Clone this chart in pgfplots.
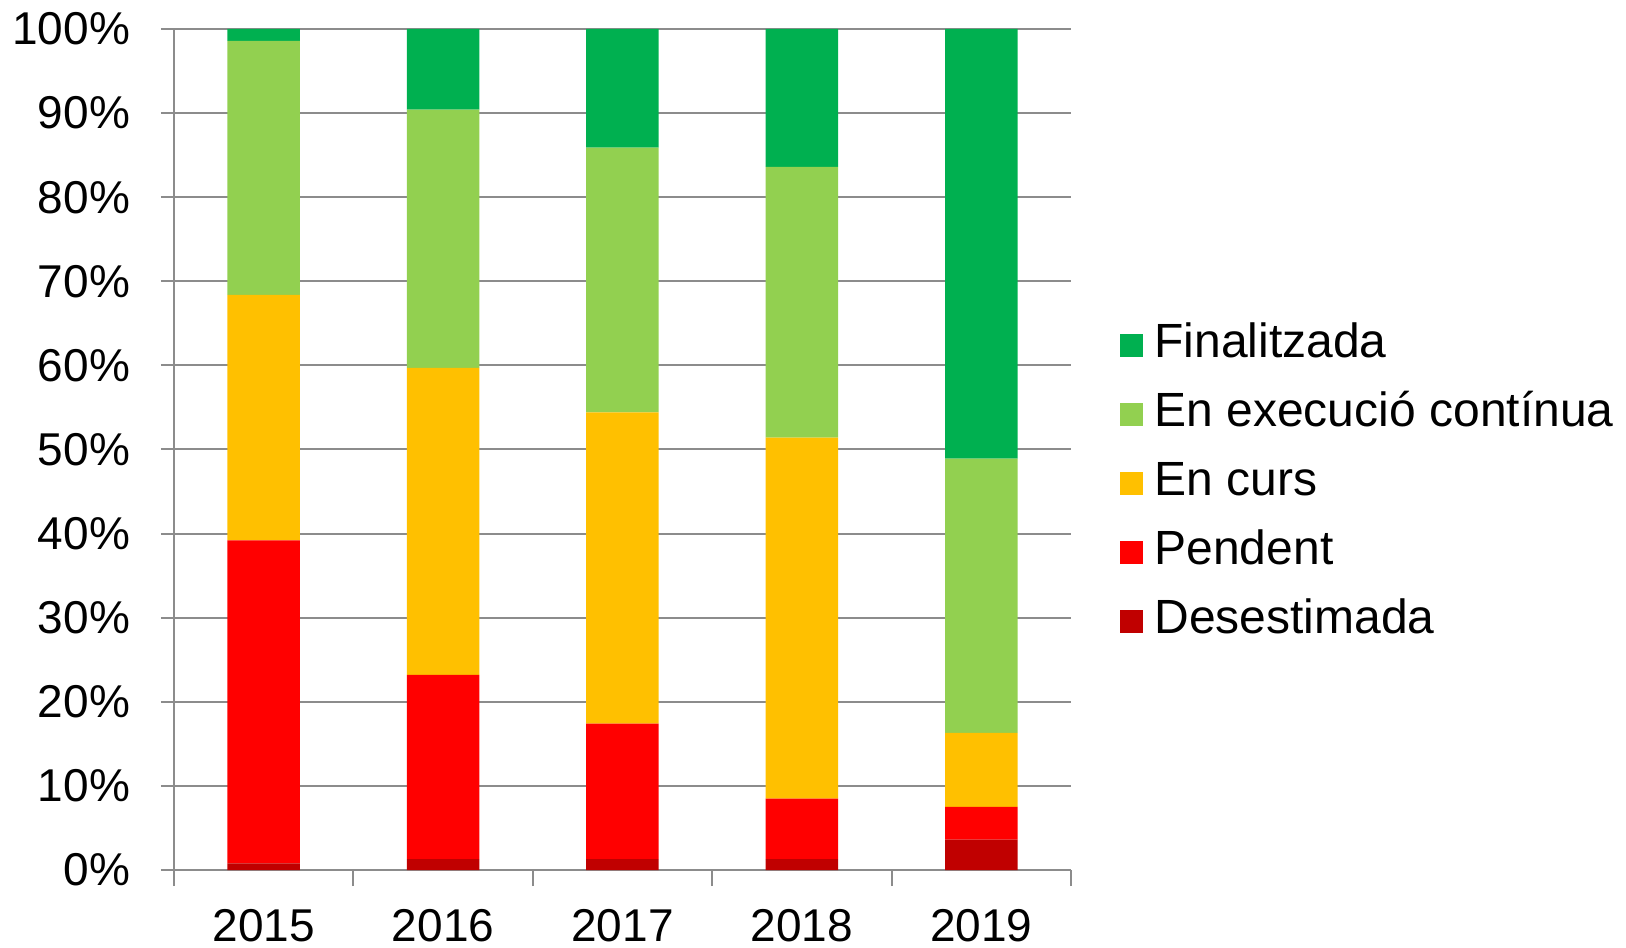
\documentclass[border=0pt]{standalone}
\usepackage{fontspec}
\setmainfont{Liberation Sans}
\usepackage{pgfplots}
\pgfplotsset{compat=1.18}
\usepackage{pgfplotstable}
\definecolor{cFin}{HTML}{00B050}
\definecolor{cExe}{HTML}{92D050}
\definecolor{cCur}{HTML}{FFC000}
\definecolor{cPen}{HTML}{FF0000}
\definecolor{cDes}{HTML}{C00000}
\definecolor{gridc}{RGB}{140,140,140}
\pgfplotstableread{
x D P C E F
0 0.8 38.4 29.2 30.2 1.4
1 1.3 21.9 36.5 30.7 9.6
2 1.3 16.1 37.0 31.5 14.1
3 1.3 7.2 42.9 32.2 16.4
4 3.6 3.9 8.8 32.6 51.1
}\datatable
\begin{document}
\begin{tikzpicture}
\begin{axis}[
  at={(0,0)}, anchor=south west,
  scale only axis,
  width=448.5pt, height=420.5pt,
  ybar stacked, bar width=36.25pt,
  xmin=-0.5, xmax=4.5, ymin=0, ymax=100,
  axis x line*=bottom, axis y line*=left,
  axis line style={draw=gridc, line width=1pt},
  xtick={0,1,2,3,4},
  xticklabels={2015,2016,2017,2018,2019},
  major x tick style={draw=none},
  minor xtick={-0.5,0.5,1.5,2.5,3.5,4.5},
  minor x tick style={draw=gridc, line width=1pt},
  minor tick length=8pt,
  ytick={0,10,...,100},
  yticklabels={0\%,10\%,20\%,30\%,40\%,50\%,60\%,70\%,80\%,90\%,100\%},
  major tick length=6.5pt,
  tick align=outside,
  ytick style={draw=gridc, line width=1pt},
  ymajorgrids,
  grid style={draw=gridc, line width=1pt},
  ticklabel style={font=\fontsize{23}{23}\selectfont},
  yticklabel style={xshift=-12pt},
  xticklabel style={inner sep=0pt, text depth=0pt, yshift=-13.2pt},
  reverse legend,
  legend cell align=left,
  legend style={at={(1,0.463)}, anchor=west, xshift=24.5pt, yshift=-1.5pt, draw=none, fill=none,
    inner sep=0pt, row sep=8.5pt,
    font=\fontsize{24}{24}\selectfont,
    nodes={inner sep=2pt, text height=17pt, text depth=5pt},
    /tikz/every odd column/.append style={column sep=3.6pt}},
  legend image code/.code={\fill[#1] (0pt,-5.75pt) rectangle (11.5pt,5.75pt);},
]
\addplot[fill=cDes, draw=none] table[x=x, y=D] {\datatable};
\addlegendentry{Desestimada}
\addplot[fill=cPen, draw=none] table[x=x, y=P] {\datatable};
\addlegendentry{Pendent}
\addplot[fill=cCur, draw=none] table[x=x, y=C] {\datatable};
\addlegendentry{En curs}
\addplot[fill=cExe, draw=none] table[x=x, y=E] {\datatable};
\addlegendentry{En execució contínua}
\addplot[fill=cFin, draw=none] table[x=x, y=F] {\datatable};
\addlegendentry{Finalitzada}
\end{axis}
\pgfresetboundingbox
\path (-87pt,-38.5pt) rectangle (726pt,435pt);
\end{tikzpicture}
\end{document}
